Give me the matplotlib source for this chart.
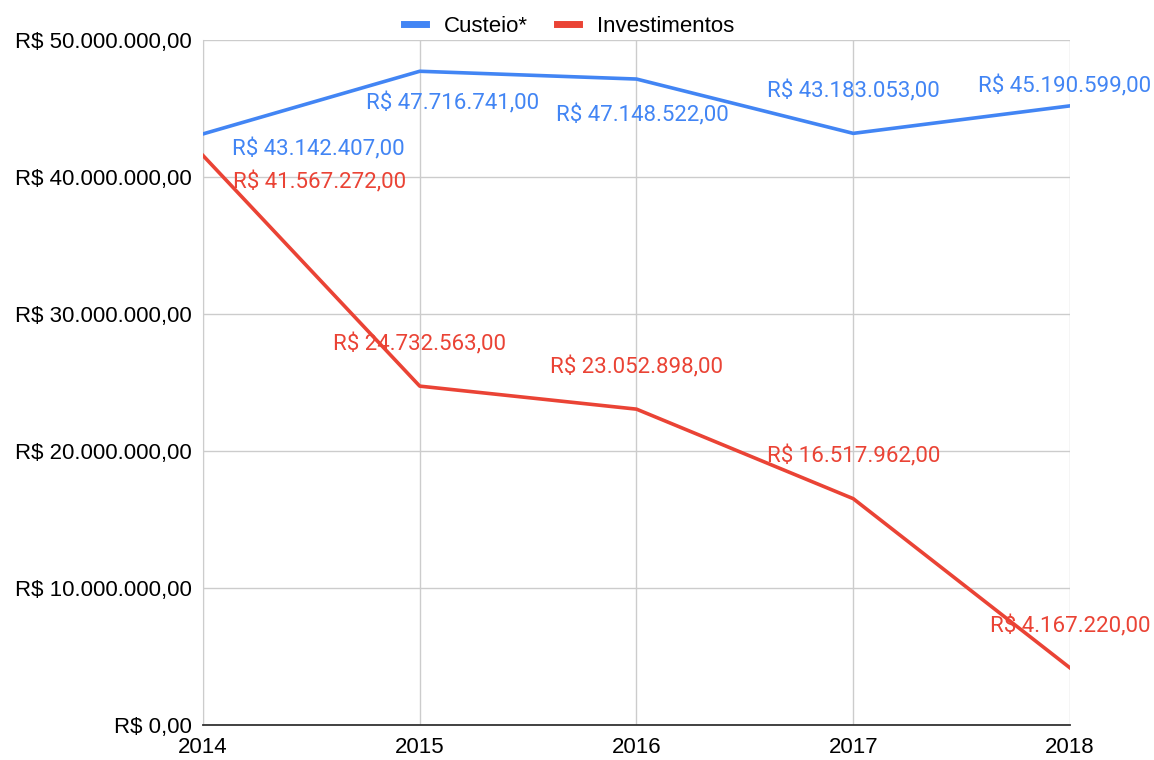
import matplotlib.pyplot as plt

years = [2014, 2015, 2016, 2017, 2018]
custeio = [43142407, 47716741, 47148522, 43183053, 45190599]
investimentos = [41567272, 24732563, 23052898, 16517962, 4167220]
yticks = [0, 10000000, 20000000, 30000000, 40000000, 50000000]

blue = "#4285f4"
red = "#ea4335"


def brl(v):
    s = f"{v:,.2f}".replace(",", "X").replace(".", ",").replace("X", ".")
    return "R$ " + s


fig = plt.figure(figsize=(11.54, 7.6), dpi=100)
ax = fig.add_axes([0.1759, 0.0461, 0.7513, 0.9013])

ax.plot(years, custeio, color=blue, lw=2.6, label="Custeio*", zorder=3)
ax.plot(years, investimentos, color=red, lw=2.6, label="Investimentos", zorder=3)

# label offsets in pixels (dx, dy)
off_c = [(115, -15), (33, -32), (6, -36), (0, 42), (-5, 19)]
off_i = [(117, -27), (0, 42), (0, 42), (0, 42), (0, 41)]
for x, v, o in zip(years, custeio, off_c):
    ax.annotate(brl(v), (x, v), xytext=(o[0] * 0.72, o[1] * 0.72),
                textcoords="offset points", ha="center", va="center",
                color=blue, fontsize=16, family="Roboto", zorder=4)
for x, v, o in zip(years, investimentos, off_i):
    ax.annotate(brl(v), (x, v), xytext=(o[0] * 0.72, o[1] * 0.72),
                textcoords="offset points", ha="center", va="center",
                color=red, fontsize=16, family="Roboto", zorder=4)

ax.set_xlim(2014, 2018)
ax.set_ylim(0, 50000000)
ax.set_xticks(years)
ax.set_xticklabels([str(y) for y in years], family="Liberation Sans", fontsize=16)
ax.set_yticks(yticks)
ax.set_yticklabels([brl(v) for v in yticks], family="Liberation Sans", fontsize=16)
ax.tick_params(length=0, pad=8)
ax.tick_params(axis="x", pad=9)
ax.grid(True, color="#cccccc", lw=1)
ax.set_axisbelow(True)
for s in ["top", "right"]:
    ax.spines[s].set_visible(False)
ax.spines["left"].set_color("#cccccc")
ax.spines["bottom"].set_color("#333333")
ax.spines["bottom"].set_linewidth(1.3)

leg = fig.legend(loc="upper center", bbox_to_anchor=(0.493, 1.005), ncol=2,
                 frameon=False, prop={"family": "Liberation Sans", "size": 16},
                 handlelength=1.0, columnspacing=1.3, handletextpad=0.8)
for h in leg.get_lines():
    h.set_linewidth(5)

fig.savefig("out.png", dpi=100)
